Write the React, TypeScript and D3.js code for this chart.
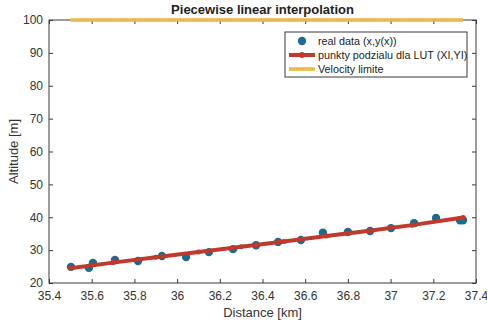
import React, { useEffect, useRef } from "react";
import * as d3 from "d3";

// real data (x, y(x))
const realX = [35.503, 35.587, 35.606, 35.709, 35.817, 35.929, 36.042, 36.149, 36.262, 36.37, 36.473, 36.58, 36.683, 36.8, 36.904, 37.002, 37.11, 37.213, 37.325, 37.339];
const realY = [24.9, 24.6, 26.1, 27.0, 26.7, 28.2, 27.9, 29.4, 30.3, 31.5, 32.5, 33.1, 35.3, 35.5, 35.8, 36.7, 38.2, 39.8, 39.1, 39.1];

// LUT points (XI, YI)
const lutX = [35.5, 35.7, 35.9, 36.1, 36.3, 36.5, 36.7, 36.9, 37.1, 37.34];
const lutY = [24.5, 26.2, 27.8, 29.4, 31.0, 32.6, 34.3, 35.9, 37.6, 39.9];

// velocity limit
const limitX = [35.5, 37.34];
const limitY = [100, 100];

const xTicks = [35.4, 35.6, 35.8, 36, 36.2, 36.4, 36.6, 36.8, 37, 37.2, 37.4];
const yTicks = [20, 30, 40, 50, 60, 70, 80, 90, 100];

const legendLabels = ["real data (x,y(x))", "punkty podzialu dla LUT (XI,YI)", "Velocity limite"];

const App = () => {
  const chartRef = useRef<SVGSVGElement>(null);

  useEffect(() => {
    const width = 487;
    const height = 324;
    const marginLeft = 49;
    const marginRight = 11;
    const marginTop = 20;
    const marginBottom = 41;

    const blue = "#1d6b8f";
    const red = "#bd3a2c";
    const yellow = "#e8b040";
    const axisColor = "#3a3a3a";
    const font = "'Liberation Sans', Arial, sans-serif";

    const svg = d3.select(chartRef.current);
    svg.selectAll("*").remove();

    const x = d3.scaleLinear().domain([35.4, 37.4]).range([marginLeft, width - marginRight]);
    const y = d3.scaleLinear().domain([20, 100]).range([height - marginBottom, marginTop]);

    svg.append("rect").attr("width", width).attr("height", height).attr("fill", "white");

    const fmt = (d: number) => String(+d.toFixed(1));

    // axes with ticks inside
    const styleAxis = (g: any) => {
      g.select(".domain").remove();
      g.selectAll("line").attr("stroke", axisColor);
      g.selectAll("text").attr("fill", "#333").attr("font-family", font).attr("font-size", 12);
    };

    svg.append("g")
      .attr("transform", `translate(0,${height - marginBottom})`)
      .call(d3.axisBottom(x).tickValues(xTicks).tickFormat(fmt as any).tickSize(-4).tickPadding(8))
      .call(styleAxis);

    svg.append("g")
      .attr("transform", `translate(0,${marginTop})`)
      .call(d3.axisTop(x).tickValues(xTicks).tickFormat(() => "").tickSize(-4))
      .call(styleAxis);

    svg.append("g")
      .attr("transform", `translate(${marginLeft},0)`)
      .call(d3.axisLeft(y).tickValues(yTicks).tickSize(-4).tickPadding(6))
      .call(styleAxis);

    svg.append("g")
      .attr("transform", `translate(${width - marginRight},0)`)
      .call(d3.axisRight(y).tickValues(yTicks).tickFormat(() => "").tickSize(-4))
      .call(styleAxis);

    svg.append("rect")
      .attr("x", marginLeft)
      .attr("y", marginTop)
      .attr("width", width - marginLeft - marginRight)
      .attr("height", height - marginTop - marginBottom)
      .attr("fill", "none")
      .attr("stroke", axisColor)
      .attr("stroke-width", 1);

    // real data dots
    svg.append("g")
      .attr("fill", blue)
      .selectAll("circle")
      .data(realX)
      .join("circle")
      .attr("cx", (d) => x(d))
      .attr("cy", (d, i) => y(realY[i]))
      .attr("r", 4.2);

    // LUT line
    const line = d3.line<number>()
      .x((d) => x(d))
      .y((d, i) => y(lutY[i]));
    svg.append("path")
      .datum(lutX)
      .attr("d", line)
      .attr("fill", "none")
      .attr("stroke", red)
      .attr("stroke-width", 4);
    svg.append("g")
      .attr("fill", red)
      .selectAll("circle")
      .data(lutX)
      .join("circle")
      .attr("cx", (d) => x(d))
      .attr("cy", (d, i) => y(lutY[i]))
      .attr("r", 2.5);

    // velocity limit
    const limitLine = d3.line<number>()
      .x((d) => x(d))
      .y((d, i) => y(limitY[i]));
    svg.append("path")
      .datum(limitX)
      .attr("d", limitLine)
      .attr("fill", "none")
      .attr("stroke", yellow)
      .attr("stroke-width", 3.5);
    svg.append("path")
      .datum(limitX)
      .attr("d", limitLine)
      .attr("fill", "none")
      .attr("stroke", "#f3d37a")
      .attr("stroke-width", 1)
      .attr("stroke-dasharray", "1.5 1.5");

    // title and labels
    svg.append("text")
      .attr("x", (marginLeft + width - marginRight) / 2)
      .attr("y", 14)
      .attr("text-anchor", "middle")
      .attr("font-family", font)
      .attr("font-weight", "bold")
      .attr("font-size", 13)
      .attr("fill", "#222")
      .text("Piecewise linear interpolation");

    svg.append("text")
      .attr("x", (marginLeft + width - marginRight) / 2)
      .attr("y", 317)
      .attr("text-anchor", "middle")
      .attr("font-family", font)
      .attr("font-size", 13)
      .attr("fill", "#333")
      .text("Distance [km]");

    svg.append("text")
      .attr("transform", `translate(18,${(marginTop + height - marginBottom) / 2}) rotate(-90)`)
      .attr("text-anchor", "middle")
      .attr("font-family", font)
      .attr("font-size", 13)
      .attr("fill", "#333")
      .text("Altitude [m]");

    // legend
    const lg = svg.append("g").attr("transform", "translate(285,32)");
    lg.append("rect")
      .attr("width", 182)
      .attr("height", 45)
      .attr("fill", "white")
      .attr("stroke", axisColor);
    legendLabels.forEach((label, i) => {
      const cy = 9 + i * 14;
      if (i === 0) {
        lg.append("circle").attr("cx", 17).attr("cy", cy).attr("r", 4.2).attr("fill", blue);
      } else if (i === 1) {
        lg.append("line").attr("x1", 4).attr("x2", 30).attr("y1", cy).attr("y2", cy)
          .attr("stroke", red).attr("stroke-width", 4);
        lg.append("circle").attr("cx", 17).attr("cy", cy).attr("r", 3).attr("fill", red);
      } else {
        lg.append("line").attr("x1", 4).attr("x2", 30).attr("y1", cy).attr("y2", cy)
          .attr("stroke", yellow).attr("stroke-width", 3.5);
        lg.append("line").attr("x1", 4).attr("x2", 30).attr("y1", cy).attr("y2", cy)
          .attr("stroke", "#f3d37a").attr("stroke-width", 1).attr("stroke-dasharray", "1.5 1.5");
      }
      lg.append("text")
        .attr("x", 33)
        .attr("y", cy)
        .attr("dy", "0.35em")
        .attr("font-family", font)
        .attr("font-size", 10.8)
        .attr("fill", "#222")
        .text(label);
    });
  }, []);

  return (
    <div style={{ position: "absolute", left: 0, top: 0 }}>
      <svg ref={chartRef} width={487} height={324} style={{ display: "block" }} />
    </div>
  );
};

export default App;
